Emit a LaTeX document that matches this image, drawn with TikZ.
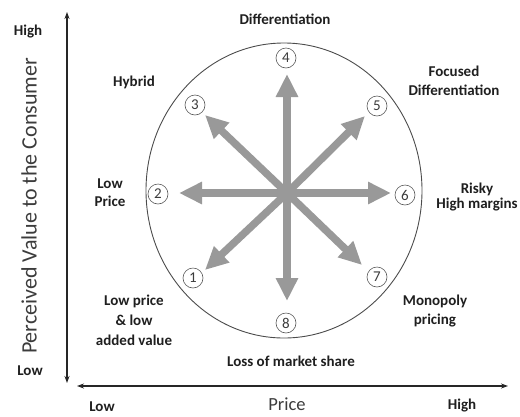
\documentclass[tikz,border=0pt]{standalone}
\usepackage{fontspec}
\setmainfont{Carlito}
\usetikzlibrary{arrows.meta}
\definecolor{arrgray}{HTML}{999999}
\definecolor{txtgray}{HTML}{3C3C3C}
\begin{document}
\begin{tikzpicture}[x=1pt,y=-1pt,
  bigarrow/.style={draw=arrgray,line width=7.5pt,-{Triangle[length=23pt,width=21pt]}},
  axis/.style={draw=black!85,line width=1.1pt,{Stealth[length=7pt,width=5pt]}-{Stealth[length=7pt,width=5pt]}},
  num/.style={circle,draw=black!65,line width=0.6pt,fill=white,inner sep=0pt,minimum size=20pt,font=\fontsize{15}{15}\selectfont,text=txtgray},
  lbl/.style={font=\bfseries\fontsize{15}{19}\selectfont,align=center,text=black!88,inner sep=0pt},
  axtitle/.style={text=txtgray,inner sep=0pt}]
\useasboundingbox (0,0) rectangle (520,416);
% axes
\coordinate (vt) at (67,12);
\coordinate (vb) at (67,383);
\coordinate (hl) at (77,386);
\coordinate (hr) at (508,386);
\draw[axis] (vb) -- (vt);
\draw[axis] (hl) -- (hr);
% ellipse
\draw[black!70,line width=0.9pt] (284,190.5) ellipse [x radius=138, y radius=147.5];
% hub and arrow tips
\coordinate (c) at (287,193);
\coordinate (t1) at (205,270);
\coordinate (t2) at (179,193);
\coordinate (t3) at (205,115);
\coordinate (t4) at (287,74);
\coordinate (t5) at (365,116);
\coordinate (t6) at (391,193);
\coordinate (t7) at (362,265);
\coordinate (t8) at (287,301);
\foreach \i in {1,...,8} {\draw[bigarrow] (c) -- (t\i);}
% numbered circles
\node[num] (n1) at (193,278) {1};
\node[num] (n2) at (158,194) {2};
\node[num] (n3) at (195,105) {3};
\node[num] (n4) at (286,58) {4};
\node[num] (n5) at (377,106) {5};
\node[num] (n6) at (405,195) {6};
\node[num] (n7) at (377,277) {7};
\node[num] (n8) at (286,323) {8};
% labels
\node[lbl] (l4) at (285,19) {Differentiation};
\node[lbl] (l3) at (134,82) {Hybrid};
\node[lbl] (l5) at (454,81) {Focused\\Differentiation};
\node[lbl,font=\bfseries\fontsize{15}{18}\selectfont] (l2) at (110,193) {Low\\Price};
\node[lbl,font=\bfseries\fontsize{15}{15.5}\selectfont] (l6) at (477,197) {Risky\\High margins};
\node[lbl] (l7) at (435,311) {Monopoly\\pricing};
\node[lbl,font=\bfseries\fontsize{15}{20}\selectfont] (l1) at (134,320) {Low price\\\& low\\added value};
\node[lbl] (l8) at (291,361) {Loss of market share};
% axis labels
\node[lbl] (hi1) at (28,32) {High};
\node[lbl] (lo1) at (30,371) {Low};
\node[lbl] (lo2) at (102,407) {Low};
\node[lbl] (hi2) at (462,406) {High};
\node[axtitle,font=\fontsize{18.5}{20}\selectfont] (px) at (287,404.5) {Price};
\node[axtitle,font=\fontsize{22}{24}\selectfont,rotate=90] (py) at (29,206) {Perceived Value to the Consumer};
\end{tikzpicture}
\end{document}
